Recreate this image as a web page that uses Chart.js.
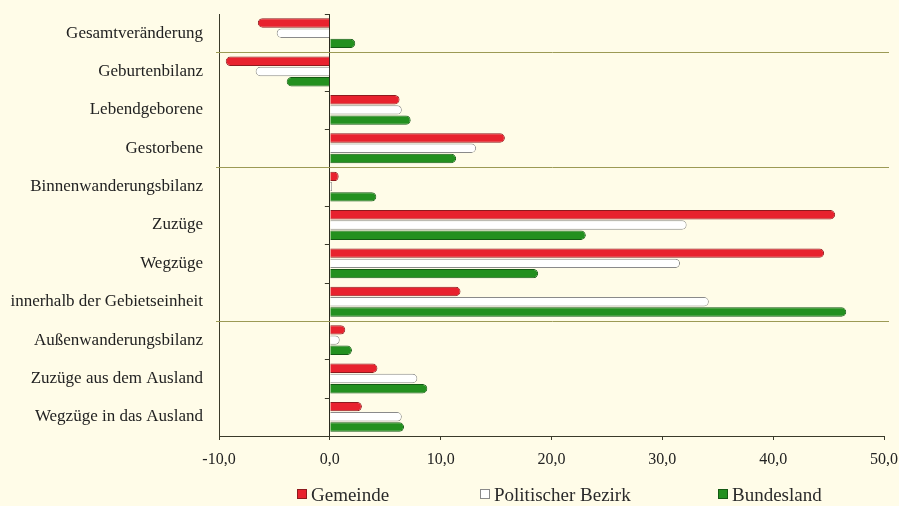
<!DOCTYPE html>
<html>
<head>
<meta charset="utf-8">
<script src="https://cdn.jsdelivr.net/npm/chart.js@4"></script>
<style>
  html, body { margin: 0; padding: 0; background: #fffce8; }
  #wrap { position: relative; width: 899px; height: 506px; }
  #legend { position: absolute; top: 484px; left: 0; width: 899px; height: 22px;
            font-family: "Liberation Serif", "DejaVu Serif", serif; font-size: 19px; color: #2a2a2a; }
  .item { position: absolute; top: 0; white-space: nowrap; }
  .box { display: inline-block; width: 8px; height: 8px; margin-right: 4px; vertical-align: 2px; }
</style>
</head>
<body>
<div id="wrap">
  <canvas id="c" width="899" height="506"></canvas>
  <div id="legend"></div>
</div>
<script>
// Rates per 1000 inhabitants
const categories = [
  "Gesamtveränderung", "Geburtenbilanz", "Lebendgeborene", "Gestorbene",
  "Binnenwanderungsbilanz", "Zuzüge", "Wegzüge", "innerhalb der Gebietseinheit",
  "Außenwanderungsbilanz", "Zuzüge aus dem Ausland", "Wegzüge in das Ausland"
];
const gemeinde   = [-6.5, -9.4, 6.3, 15.8, 0.8, 45.6, 44.6, 11.8, 1.4, 4.3, 2.9];
const bezirk     = [-4.8, -6.7, 6.5, 13.2, 0.2, 32.2, 31.6, 34.2, 0.9, 7.9, 6.5];
const bundesland = [ 2.3, -3.9, 7.3, 11.4, 4.2, 23.1, 18.8, 46.6, 2.0, 8.8, 6.7];
const seriesNames = ["Gemeinde", "Politischer Bezirk", "Bundesland"];
const xTicks = [-10, 0, 10, 20, 30, 40, 50];
// group separators drawn below these categories
const separatorsAfter = [0, 3, 7];

const fillColors   = ["#e8222e", "#ffffff", "#23901f"];
const borderColors = ["#8e1a1e", "#8a8a8a", "#145a14"];

const serif = '"Liberation Serif", "DejaVu Serif", serif';

// short ticks on the zero line and olive group separators
const groupLines = {
  id: 'groupLines',
  afterDatasetsDraw(chart) {
    const { ctx, chartArea, scales } = chart;
    const y = scales.y, x = scales.x;
    const x0 = x.getPixelForValue(0);
    const step = (y.getPixelForValue(1) - y.getPixelForValue(0));
    ctx.save();
    ctx.strokeStyle = '#3a3a2a';
    ctx.lineWidth = 1;
    for (let i = 0; i <= categories.length; i++) {
      const py = Math.round(y.getPixelForValue(i) - step / 2) + 0.5;
      ctx.beginPath(); ctx.moveTo(x0 - 5, py); ctx.lineTo(x0, py); ctx.stroke();
    }
    ctx.strokeStyle = '#9c9a55';
    separatorsAfter.forEach(i => {
      const py = Math.round(y.getPixelForValue(i) + step / 2) + 0.5;
      ctx.beginPath(); ctx.moveTo(chartArea.left - 3, py); ctx.lineTo(chartArea.right + 5, py); ctx.stroke();
    });
    ctx.restore();
  }
};

const datasets = [gemeinde, bezirk, bundesland].map((d, i) => ({
  label: seriesNames[i],
  data: d,
  backgroundColor: fillColors[i],
  borderColor: borderColors[i],
  borderWidth: 1,
  borderRadius: 5,
  barPercentage: 0.92,
  categoryPercentage: 0.8
}));

new Chart(document.getElementById('c'), {
  type: 'bar',
  data: { labels: categories, datasets },
  options: {
    indexAxis: 'y',
    responsive: false,
    animation: false,
    layout: { padding: { top: 14, right: 15, bottom: 40, left: 0 } },
    plugins: { legend: { display: false }, tooltip: { enabled: false } },
    scales: {
      x: {
        min: -10, max: 50,
        afterBuildTicks(scale) { scale.ticks = xTicks.map(v => ({ value: v })); },
        afterFit(scale) {
          scale.height = 30;
          scale.paddingLeft = 0; scale.paddingRight = 0;
        },
        border: { display: true, color: '#3a3a2a', width: 1 },
        grid: {
          drawOnChartArea: true,
          tickLength: 4,
          tickColor: '#3a3a2a',
          color: ctx => (ctx.tick && ctx.tick.value === 0) ? '#2a2a20' : 'rgba(0,0,0,0)'
        },
        ticks: {
          padding: 10,
          color: '#222',
          font: { family: serif, size: 16 },
          callback: v => v.toFixed(1).replace('.', ',')
        }
      },
      y: {
        afterFit(scale) {
          scale.width = 219;
          scale.paddingTop = 0; scale.paddingBottom = 0;
        },
        border: { display: true, color: '#3a3a2a', width: 1 },
        grid: { display: false },
        ticks: {
          padding: 8,
          color: '#222',
          font: { family: serif, size: 17 }
        }
      }
    }
  },
  plugins: [groupLines]
});

// legend below the chart
const legendPos = [297, 480, 718];
const legend = document.getElementById('legend');
seriesNames.forEach((name, i) => {
  const item = document.createElement('span');
  item.className = 'item';
  item.style.left = legendPos[i] + 'px';
  const box = document.createElement('span');
  box.className = 'box';
  box.style.background = fillColors[i];
  box.style.border = '1px solid ' + borderColors[i];
  item.appendChild(box);
  item.appendChild(document.createTextNode(name));
  legend.appendChild(item);
});
</script>
</body>
</html>
